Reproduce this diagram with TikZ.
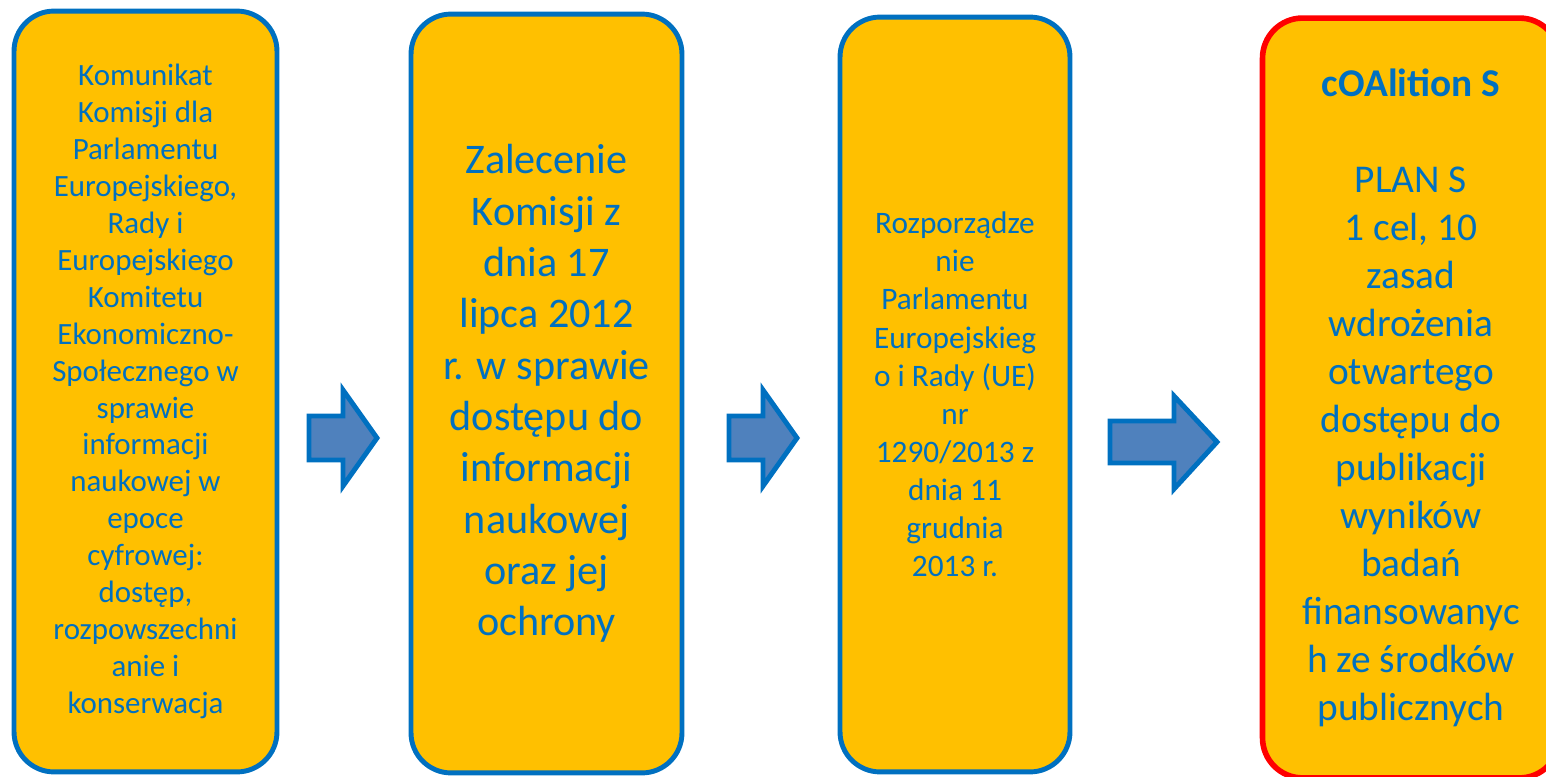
\documentclass[tikz,border=0pt]{standalone}
\usepackage{fontspec}
\setmainfont{Carlito}
\definecolor{boxfill}{HTML}{FFC000}
\definecolor{boxblue}{HTML}{0070C0}
\definecolor{arrfill}{HTML}{4F81BD}
\definecolor{boxred}{HTML}{FF0000}
\tikzset{
  stage/.style={draw=boxblue, fill=boxfill, line width=2.8pt, rounded corners=0.8cm,
    text=boxblue, align=center, inner sep=0pt},
  goal/.style={stage, draw=boxred, line width=3.2pt},
  blockarr/.style={draw=boxblue, fill=arrfill, line width=2.8pt, line join=miter}
}
\begin{document}
\begin{tikzpicture}[x=0.02cm, y=-0.02cm]
  \useasboundingbox (0,0) rectangle (1546,777);
  \clip (0,0) rectangle (1546,777);
  % stages
  \node[stage, minimum width=5.26cm, minimum height=15.22cm,
        font=\fontsize{17.6}{21}\selectfont] (komunikat) at (145.5,391.5)
    {Komunikat\\Komisji dla\\Parlamentu\\Europejskiego,\\Rady i\\Europejskiego\\Komitetu\\Ekonomiczno-\\Społecznego w\\sprawie\\informacji\\naukowej w\\epoce\\cyfrowej:\\dostęp,\\rozpowszechni\\anie i\\konserwacja};
  \node[stage, minimum width=5.42cm, minimum height=15.18cm,
        font=\fontsize{24}{29.2}\selectfont] (zalecenie) at (546.5,393.5)
    {Zalecenie\\Komisji z\\dnia 17\\lipca 2012\\r. w sprawie\\dostępu do\\informacji\\naukowej\\oraz jej\\ochrony};
  \node[stage, minimum width=4.6cm, minimum height=15.1cm,
        font=\fontsize{17.8}{21.7}\selectfont] (rozporzadzenie) at (955,394.5)
    {Rozporządze\\nie\\Parlamentu\\Europejskieg\\o i Rady (UE)\\nr\\1290/2013 z\\dnia 11\\grudnia\\2013 r.};
  \node[goal, minimum width=5.94cm, minimum height=15.2cm,
        font=\fontsize{22.4}{27.3}\selectfont] (plans) at (1411,398)
    {\textbf{cOAlition S}\\[27.3pt]PLAN S\\1 cel, 10\\zasad\\wdrożenia\\otwartego\\dostępu do\\publikacji\\wyników\\badań\\finansowanyc\\h ze środków\\publicznych};
  % arrows
  \draw[blockarr] (309,416) -- (343,416) -- (343,390) -- (377,438) -- (343,486) -- (343,460) -- (309,460) -- cycle;
  \draw[blockarr] (729,416) -- (763,416) -- (763,390) -- (797,438) -- (763,486) -- (763,460) -- (729,460) -- cycle;
  \draw[blockarr] (1110,421) -- (1174,421) -- (1174,396) -- (1217,442) -- (1174,489) -- (1174,463) -- (1110,463) -- cycle;
\end{tikzpicture}
\end{document}
